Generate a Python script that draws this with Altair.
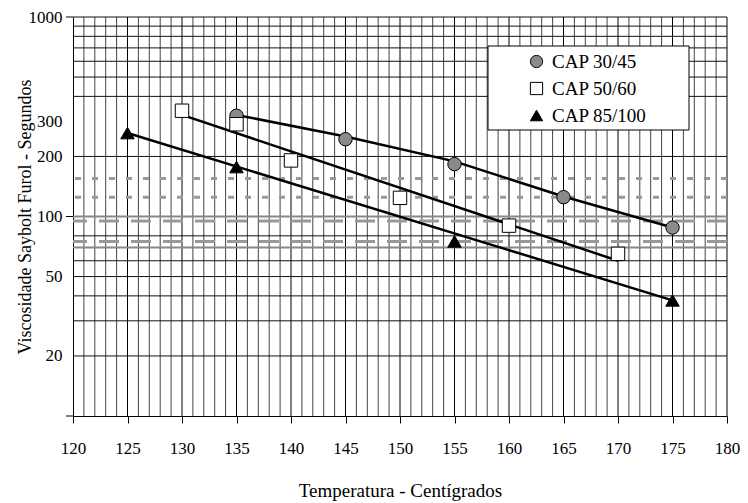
import altair as alt
import pandas as pd

# ---- data ----
series = ["CAP 30/45", "CAP 50/60", "CAP 85/100"]

t_3045 = [135, 145, 155, 165, 175]
v_3045 = [320, 244, 183, 125, 88]
t_5060 = [130, 135, 140, 150, 160, 170]
v_5060 = [339, 290, 191, 124, 90, 65]
t_85100 = [125, 135, 155, 175]
v_85100 = [262, 177, 75, 38]

# drawn trend lines
line_3045_t = [135, 145, 155, 165, 175]
line_3045_v = [323, 252, 189, 126, 88]
line_5060_t = [130, 170]
line_5060_v = [323, 60]
line_85100_t = [125, 175]
line_85100_v = [262, 38]

x_ticks = [120, 125, 130, 135, 140, 145, 150, 155, 160, 165, 170, 175, 180]
y_labels = [20, 50, 100, 200, 300, 1000]
y_decades = [10, 100, 1000]
grid_h_dark = [20, 30, 40, 50, 60, 80, 200, 400, 500, 600, 700, 800, 900, 1000]
grid_h_gray = [70, 100]
grid_v_major = [125, 130, 135, 140, 145, 150, 155, 160, 165, 170, 175, 180]
grid_v_minor = [t for t in range(121, 180) if t % 5 != 0]
limit_short = [155, 125]
limit_long = [95, 75]

FONT = "Times New Roman, Liberation Serif, serif"

# ---- tables ----
pts = pd.DataFrame(
    {"t": t_3045 + t_5060 + t_85100,
     "v": v_3045 + v_5060 + v_85100,
     "serie": [series[0]] * len(t_3045) + [series[1]] * len(t_5060) + [series[2]] * len(t_85100)}
)
lines = pd.DataFrame(
    {"t": line_3045_t + line_5060_t + line_85100_t,
     "v": line_3045_v + line_5060_v + line_85100_v,
     "serie": [series[0]] * len(line_3045_t) + [series[1]] * len(line_5060_t) + [series[2]] * len(line_85100_t)}
)

W = 654
H = 399
xscale = alt.Scale(domain=[120, 180], nice=False, zero=False)
yscale = alt.Scale(type="log", domain=[10, 1000], nice=False)

xaxis = alt.Axis(values=x_ticks, grid=False, tickSize=7, tickColor="black", domainColor="black",
                 labelFont=FONT, labelFontSize=17, labelColor="black", labelPadding=17,
                 labelFlush=False,
                 title="Temperatura - Centígrados", titleFont=FONT, titleFontSize=19,
                 titleFontWeight="normal", titleColor="black", titleX=W / 2, titleY=74,
                 titleBaseline="middle", titleAlign="center")
yaxis = alt.Axis(values=y_labels, format="d", grid=False, ticks=False, domainColor="black",
                 labelFont=FONT, labelFontSize=17, labelColor="black", labelPadding=11,
                 labelFlush=False,
                 title="Viscosidade Saybolt Furol - Segundos", titleFont=FONT, titleFontSize=18,
                 titleFontWeight="normal", titleColor="black", titleX=-48, titleY=H / 2,
                 titleAngle=-90, titleBaseline="middle", titleAlign="center")

X = lambda: alt.X("t:Q", scale=xscale, axis=xaxis)
Y = lambda: alt.Y("v:Q", scale=yscale, axis=yaxis)

vminor = alt.Chart(pd.DataFrame({"t": grid_v_minor})).mark_rule(color="#444444", strokeWidth=1).encode(x=X())
vmajor = alt.Chart(pd.DataFrame({"t": grid_v_major})).mark_rule(color="#000000", strokeWidth=1).encode(x=X())
hdark = alt.Chart(pd.DataFrame({"v": grid_h_dark})).mark_rule(color="#111111", strokeWidth=1).encode(y=Y())
hgray = alt.Chart(pd.DataFrame({"v": grid_h_gray})).mark_rule(color="#888888", strokeWidth=2).encode(y=Y())
lshort = alt.Chart(pd.DataFrame({"v": limit_short})).mark_rule(
    color="#999999", strokeWidth=3, strokeDash=[6, 11]).encode(y=Y())
llong = alt.Chart(pd.DataFrame({"v": limit_long})).mark_rule(
    color="#999999", strokeWidth=3, strokeDash=[20, 12]).encode(y=Y())

trend = alt.Chart(lines).mark_line(color="black", strokeWidth=2.5).encode(
    x=X(), y=Y(), detail="serie:N")

leg = alt.Legend(title=None, orient="none", legendX=454, legendY=35, labelFont=FONT,
                 labelFontSize=19, labelColor="black", labelOffset=6, rowPadding=7, padding=0,
                 symbolSize=150, symbolStrokeWidth=1)

points = alt.Chart(pts).mark_point(filled=True, strokeWidth=1, opacity=1).encode(
    x=X(), y=Y(),
    shape=alt.Shape("serie:N", scale=alt.Scale(domain=series, range=["circle", "square", "triangle-up"]),
                    legend=leg),
    fill=alt.Fill("serie:N", scale=alt.Scale(domain=series, range=["#8a8a8a", "white", "black"]),
                  legend=leg),
    stroke=alt.Stroke("serie:N", scale=alt.Scale(domain=series, range=["black", "black", "black"]),
                      legend=leg),
    size=alt.value(180),
)

box = alt.Chart(pd.DataFrame({"k": [0]})).mark_rect(fill="white", stroke="black", strokeWidth=1).encode(
    x=alt.value(415), x2=alt.value(616), y=alt.value(29), y2=alt.value(113))

dticks = alt.Chart(pd.DataFrame({"v": y_decades})).mark_rule(color="black", strokeWidth=1).encode(
    y=Y(), x=alt.value(-7), x2=alt.value(0))

chart = alt.layer(vminor, vmajor, hdark, hgray, lshort, llong, trend, points, box, dticks).properties(
    width=W, height=H,
    autosize=alt.AutoSizeParams(type="none"),
    padding={"left": 65, "top": 9, "right": 13, "bottom": 86},
    background="white",
).configure(font=FONT).configure_view(stroke=None).configure_legend(
    padding=0, rowPadding=7, labelFont=FONT, labelFontSize=19, labelColor="black",
    labelOffset=6, symbolSize=150, symbolStrokeWidth=1, symbolStrokeColor="black",
)

chart.save("out.html", embed_options={"renderer": "svg", "actions": False})
